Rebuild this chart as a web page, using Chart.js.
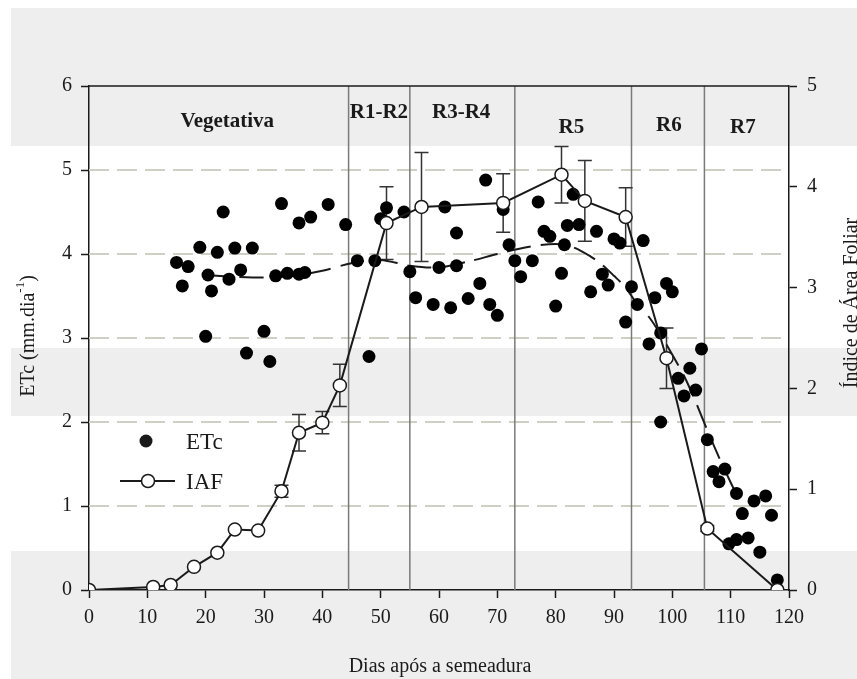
<!DOCTYPE html>
<html>
<head>
<meta charset="utf-8">
<script src="https://cdn.jsdelivr.net/npm/chart.js@4.4.1/dist/chart.umd.min.js"></script>
<style>
  html, body { margin: 0; padding: 0; background: #fff; }
  #wrap { width: 857px; height: 679px; }
</style>
</head>
<body>
<div id="wrap"><canvas id="chart" width="857" height="679"></canvas></div>
<script>
// ETc (mm/dia) – measured points
const etcDays = [
  15, 16, 17, 19, 20, 20.4, 21, 22, 23, 24, 25, 26, 27, 28, 30, 31, 32, 33, 34, 36,
  37, 36, 38, 41, 44, 46, 48, 49, 50, 51, 54, 55, 56, 59, 60, 61, 62, 63, 63, 65,
  67, 68, 68.7, 70, 71, 72, 73, 74, 76, 77, 78, 79, 80, 81, 81.5, 82, 83, 84, 86, 87,
  88, 89, 90, 91, 92, 93, 94, 95, 96, 97, 98, 98, 99, 100, 101, 102, 103, 104, 105, 106,
  107, 108, 109, 109.7, 111, 111, 112, 113, 114, 115, 116, 117, 118
];
const etcValues = [
  3.90, 3.62, 3.85, 4.08, 3.02, 3.75, 3.56, 4.02, 4.50, 3.70, 4.07, 3.81, 2.82, 4.07, 3.08, 2.72, 3.74, 4.60, 3.77, 3.76,
  3.78, 4.37, 4.44, 4.59, 4.35, 3.92, 2.78, 3.92, 4.42, 4.55, 4.50, 3.79, 3.48, 3.40, 3.84, 4.56, 3.36, 3.86, 4.25, 3.47,
  3.65, 4.88, 3.40, 3.27, 4.53, 4.11, 3.92, 3.73, 3.92, 4.62, 4.27, 4.21, 3.38, 3.77, 4.11, 4.34, 4.71, 4.35, 3.55, 4.27,
  3.76, 3.63, 4.18, 4.13, 3.19, 3.61, 3.40, 4.16, 2.93, 3.48, 3.06, 2.00, 3.65, 3.55, 2.52, 2.31, 2.64, 2.38, 2.87, 1.79,
  1.41, 1.29, 1.44, 0.55, 1.15, 0.60, 0.91, 0.62, 1.06, 0.45, 1.12, 0.89, 0.12
];

// dashed ETc trend curve
const trendDays = [20, 25, 30, 35, 40, 45, 50, 55, 60, 65, 70, 75, 80, 83, 86, 88, 90, 92, 94, 96, 98, 100, 102, 104, 106, 108, 110, 111];
const trendValues = [3.75, 3.73, 3.72, 3.74, 3.80, 3.89, 3.93, 3.86, 3.84, 3.91, 4.00, 4.08, 4.12, 4.08, 3.97, 3.87, 3.74, 3.60, 3.40, 3.25, 3.04, 2.80, 2.55, 2.24, 1.90, 1.58, 1.28, 1.14];

// IAF (índice de área foliar) with error bars
const iafDays = [0, 11, 14, 18, 22, 25, 29, 33, 36, 40, 43, 51, 57, 71, 81, 85, 92, 99, 106, 118];
const iafValues = [0, 0.03, 0.05, 0.23, 0.37, 0.60, 0.59, 0.98, 1.56, 1.66, 2.03, 3.64, 3.80, 3.84, 4.12, 3.86, 3.70, 2.30, 0.61, 0];
const iafErrors = [0, 0, 0, 0, 0, 0, 0, 0.06, 0.18, 0.11, 0.21, 0.36, 0.54, 0.29, 0.28, 0.40, 0.29, 0.30, 0.03, 0];

// phenological phases
const phaseNames = ['Vegetativa', 'R1-R2', 'R3-R4', 'R5', 'R6', 'R7'];
const phaseBounds = [44.5, 55, 73, 93, 105.5];

const xTicks = [0, 10, 20, 30, 40, 50, 60, 70, 80, 90, 100, 110, 120];
const etcTicks = [0, 1, 2, 3, 4, 5, 6];
const iafTicks = [0, 1, 2, 3, 4, 5];

const SERIF = '"Liberation Serif", "Times New Roman", serif';
const INK = '#1a1a1a';

// label placement (x in days, y in px) for the phase names
const phaseLabelPos = [[23.7, 122], [49.7, 113], [63.8, 113], [82.7, 128], [99.4, 126], [112.1, 128]];

const decorPlugin = {
  id: 'decor',
  beforeDraw(chart) {
    const ctx = chart.ctx;
    ctx.save();
    ctx.fillStyle = '#fff';
    ctx.fillRect(0, 0, chart.width, chart.height);
    // scanned-paper grey bands
    ctx.fillStyle = '#eeeeee';
    ctx.fillRect(11, 8, chart.width - 11, 138);
    ctx.fillRect(11, 348, chart.width - 11, 68);
    ctx.fillRect(11, 551, chart.width - 11, chart.height - 551);
    ctx.restore();
  },
  beforeDatasetsDraw(chart) {
    const ctx = chart.ctx;
    const { left, right, top, bottom } = chart.chartArea;
    const x = chart.scales.x, y = chart.scales.y, y2 = chart.scales.y2;
    ctx.save();
    // dashed horizontal grid
    ctx.strokeStyle = '#cfcfc6';
    ctx.lineWidth = 2;
    ctx.setLineDash([20, 8]);
    etcTicks.slice(1, -1).forEach(v => {
      const py = Math.round(y.getPixelForValue(v));
      ctx.beginPath();
      ctx.moveTo(left, py);
      ctx.lineTo(right, py);
      ctx.stroke();
    });
    ctx.setLineDash([]);
    // phase separators
    ctx.strokeStyle = '#7a7a7a';
    ctx.lineWidth = 1.5;
    phaseBounds.forEach(d => {
      const px = x.getPixelForValue(d);
      ctx.beginPath();
      ctx.moveTo(px, top);
      ctx.lineTo(px, bottom);
      ctx.stroke();
    });
    // top frame
    ctx.strokeStyle = INK;
    ctx.lineWidth = 1.5;
    ctx.beginPath();
    ctx.moveTo(left, top);
    ctx.lineTo(right, top);
    ctx.stroke();
    // phase names
    ctx.fillStyle = INK;
    ctx.font = 'bold 21px ' + SERIF;
    ctx.textAlign = 'center';
    ctx.textBaseline = 'middle';
    phaseNames.forEach((n, i) => {
      ctx.fillText(n, x.getPixelForValue(phaseLabelPos[i][0]), phaseLabelPos[i][1]);
    });
    // IAF error bars
    ctx.strokeStyle = '#333';
    ctx.lineWidth = 1.5;
    iafDays.forEach((d, i) => {
      const e = iafErrors[i];
      if (!e) return;
      const px = x.getPixelForValue(d);
      const hi = y2.getPixelForValue(iafValues[i] + e);
      const lo = y2.getPixelForValue(iafValues[i] - e);
      ctx.beginPath();
      ctx.moveTo(px, hi); ctx.lineTo(px, lo);
      ctx.moveTo(px - 7, hi); ctx.lineTo(px + 7, hi);
      ctx.moveTo(px - 7, lo); ctx.lineTo(px + 7, lo);
      ctx.stroke();
    });
    ctx.restore();
  },
  afterDraw(chart) {
    const ctx = chart.ctx;
    ctx.save();
    ctx.fillStyle = INK;
    ctx.strokeStyle = INK;
    // legend
    ctx.beginPath();
    ctx.arc(146, 441, 6.5, 0, Math.PI * 2);
    ctx.fill();
    ctx.lineWidth = 2;
    ctx.beginPath();
    ctx.moveTo(120, 481); ctx.lineTo(175, 481);
    ctx.stroke();
    ctx.beginPath();
    ctx.arc(148, 481, 6.5, 0, Math.PI * 2);
    ctx.fillStyle = '#fff';
    ctx.fill();
    ctx.lineWidth = 1.5;
    ctx.stroke();
    ctx.fillStyle = INK;
    ctx.font = '23px ' + SERIF;
    ctx.textAlign = 'left';
    ctx.textBaseline = 'middle';
    ctx.fillText('ETc', 186, 443);
    ctx.fillText('IAF', 186, 483);

    // x title
    ctx.font = '20px ' + SERIF;
    ctx.textAlign = 'center';
    ctx.fillText('Dias após a semeadura', 440, 667);

    // left title with superscript
    ctx.save();
    ctx.translate(29, 336);
    ctx.rotate(-Math.PI / 2);
    const main = 'ETc (mm.dia';
    ctx.font = '20px ' + SERIF;
    const w1 = ctx.measureText(main).width;
    ctx.font = '13px ' + SERIF;
    const w2 = ctx.measureText('-1').width;
    ctx.font = '20px ' + SERIF;
    const w3 = ctx.measureText(')').width;
    let sx = -(w1 + w2 + w3) / 2;
    ctx.textAlign = 'left';
    ctx.fillText(main, sx, 0);
    ctx.font = '13px ' + SERIF;
    ctx.fillText('-1', sx + w1, -8);
    ctx.font = '20px ' + SERIF;
    ctx.fillText(')', sx + w1 + w2, 0);
    ctx.restore();

    // right title
    ctx.save();
    ctx.translate(852, 303);
    ctx.rotate(-Math.PI / 2);
    ctx.font = '20px ' + SERIF;
    ctx.textAlign = 'center';
    ctx.fillText('Índice de Área Foliar', 0, 0);
    ctx.restore();
    ctx.restore();
  }
};

const axisBase = {
  grid: { display: true, drawOnChartArea: false, drawTicks: true, tickLength: 8, tickColor: INK, tickWidth: 1.5 },
  border: { display: true, color: INK, width: 1.5 },
};

new Chart(document.getElementById('chart'), {
  type: 'scatter',
  data: {
    datasets: [
      {
        label: 'IAF',
        data: iafDays.map((d, i) => ({ x: d, y: iafValues[i] })),
        yAxisID: 'y2',
        showLine: true,
        borderColor: INK,
        borderWidth: 2,
        pointRadius: 6.5,
        pointBackgroundColor: '#fff',
        pointBorderColor: INK,
        pointBorderWidth: 1.5
      },
      {
        label: 'ETc',
        data: etcDays.map((d, i) => ({ x: d, y: etcValues[i] })),
        yAxisID: 'y',
        pointRadius: 6.5,
        pointBackgroundColor: '#000',
        pointBorderWidth: 0
      },
      {
        label: 'trend',
        data: trendDays.map((d, i) => ({ x: d, y: trendValues[i] })),
        yAxisID: 'y',
        showLine: true,
        borderColor: INK,
        borderWidth: 2,
        borderDash: [24, 10],
        tension: 0.3,
        pointRadius: 0
      }
    ]
  },
  options: {
    responsive: false,
    animation: false,
    events: [],
    layout: { padding: { top: 86, left: 0, right: 0, bottom: 0 } },
    plugins: { legend: { display: false }, tooltip: { enabled: false } },
    scales: {
      x: {
        ...axisBase,
        type: 'linear',
        position: 'bottom',
        min: 0, max: 120,
        afterBuildTicks: s => { s.ticks = xTicks.map(v => ({ value: v })); },
        afterFit: s => { s.height = 89; },
        ticks: { autoSkip: false, maxRotation: 0, padding: 8, color: INK, font: { family: SERIF, size: 20 } }
      },
      y: {
        ...axisBase,
        position: 'left',
        min: 0, max: 6,
        afterBuildTicks: s => { s.ticks = etcTicks.map(v => ({ value: v })); },
        afterFit: s => { s.width = 89; },
        ticks: { padding: 9, color: INK, font: { family: SERIF, size: 20 } }
      },
      y2: {
        ...axisBase,
        position: 'right',
        min: 0, max: 5,
        afterBuildTicks: s => { s.ticks = iafTicks.map(v => ({ value: v })); },
        afterFit: s => { s.width = 68; },
        ticks: { padding: 10, color: INK, font: { family: SERIF, size: 20 } }
      }
    }
  },
  plugins: [decorPlugin]
});
</script>
</body>
</html>
